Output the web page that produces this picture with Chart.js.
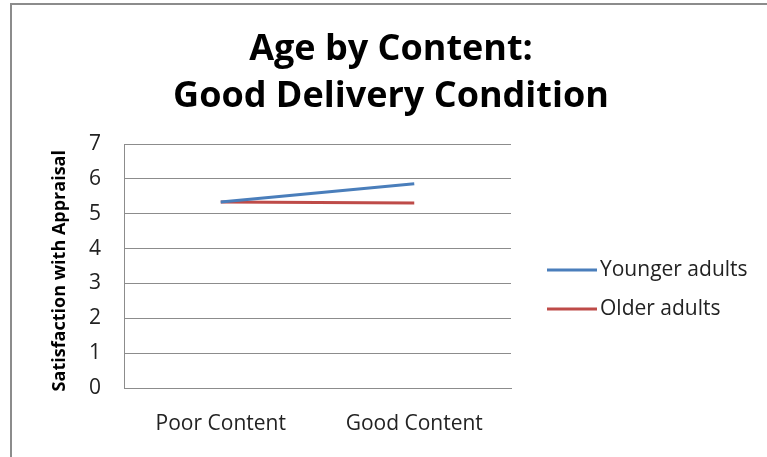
<!DOCTYPE html>
<html>
<head>
<meta charset="utf-8">
<script src="https://cdn.jsdelivr.net/npm/chart.js@4.4.0/dist/chart.umd.min.js"></script>
<style>
    html, body { margin: 0; padding: 0; background: #fff; }
    #wrap { width: 767px; height: 457px; position: relative; }
</style>
</head>
<body>
<div id="wrap"><canvas id="chart" width="767" height="457"></canvas></div>
<script>
// Chart data
const categories = ['Poor Content', 'Good Content'];
const youngerAdults = [5.34, 5.86];
const olderAdults = [5.34, 5.31];
const seriesLabels = ['Younger adults', 'Older adults'];
const seriesColors = ['#4a7ebb', '#be4b48'];
const yMin = 0;
const yMax = 7;
const yStep = 1;

// Outer frame, like the pasted picture's border
const framePlugin = {
    id: 'frame',
    beforeDraw(chart) {
        const ctx = chart.ctx;
        ctx.save();
        ctx.strokeStyle = '#8c8c8c';
        ctx.lineWidth = 2;
        ctx.beginPath();
        ctx.moveTo(11, chart.height);
        ctx.lineTo(11, 4);
        ctx.lineTo(chart.width, 4);
        ctx.stroke();
        ctx.restore();
    }
};

// Legend on the right: line swatch, then label
const sideLegend = {
    id: 'sideLegend',
    afterDraw(chart) {
        const ctx = chart.ctx;
        ctx.save();
        ctx.font = '21px "Open Sans"';
        ctx.textBaseline = 'middle';
        chart.data.datasets.forEach((ds, i) => {
            const y = 270 + i * 39;
            ctx.strokeStyle = ds.borderColor;
            ctx.lineWidth = 3;
            ctx.beginPath();
            ctx.moveTo(547, y);
            ctx.lineTo(597, y);
            ctx.stroke();
            ctx.fillStyle = '#222';
            ctx.fillText(ds.label, 600, y);
        });
        ctx.restore();
    }
};

const ctx = document.getElementById('chart').getContext('2d');
new Chart(ctx, {
    type: 'line',
    data: {
        labels: categories,
        datasets: [
            { label: seriesLabels[0], data: youngerAdults, borderColor: seriesColors[0], backgroundColor: seriesColors[0], borderWidth: 3, pointRadius: 0, tension: 0 },
            { label: seriesLabels[1], data: olderAdults, borderColor: seriesColors[1], backgroundColor: seriesColors[1], borderWidth: 3, pointRadius: 0, tension: 0 }
        ]
    },
    options: {
        responsive: false,
        animation: false,
        layout: { padding: { left: 15, right: 0, top: 0, bottom: 0 } },
        plugins: {
            legend: { display: false },
            tooltip: { enabled: false },
            title: {
                display: true,
                text: ['Age by Content:', 'Good Delivery Condition'],
                color: '#000',
                font: { family: 'Open Sans', size: 36, weight: 'bold', lineHeight: 1.3 },
                padding: { top: 26.5, bottom: 24 }
            }
        },
        scales: {
            x: {
                offset: true,
                grid: { display: false, drawTicks: false },
                border: { color: '#8c8c8c', width: 1 },
                ticks: { color: '#222', font: { family: 'Open Sans', size: 21 }, padding: 23, maxRotation: 0 },
                afterFit(scale) { scale.height = 69; }
            },
            y: {
                min: yMin,
                max: yMax,
                grid: { color: '#8c8c8c', drawTicks: false },
                border: { color: '#8c8c8c', width: 1 },
                ticks: { stepSize: yStep, color: '#222', font: { family: 'Open Sans', size: 21 }, padding: 23 },
                title: {
                    display: true,
                    text: 'Satisfaction with Appraisal  ',
                    color: '#000',
                    font: { family: 'Open Sans', size: 18, weight: 'bold' },
                    padding: { top: 34, bottom: 0 }
                },
                afterFit(scale) { scale.width = 109; }
            },
            // empty right-hand axis that reserves the legend's space
            yRight: {
                position: 'right',
                min: yMin,
                max: yMax,
                grid: { drawOnChartArea: false, drawTicks: false },
                border: { display: false },
                ticks: { display: false },
                afterFit(scale) { scale.width = 256; }
            }
        }
    },
    plugins: [framePlugin, sideLegend]
});
</script>
</body>
</html>
